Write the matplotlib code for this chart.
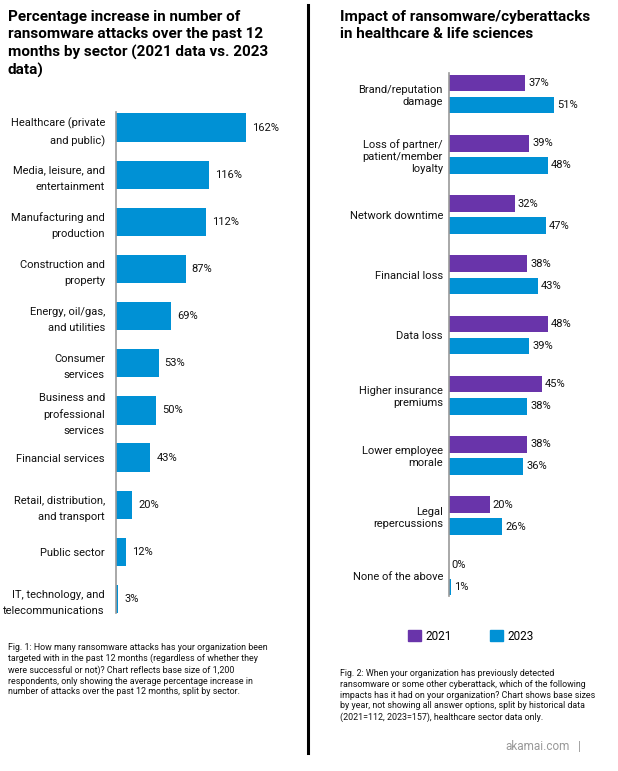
import matplotlib.pyplot as plt
from matplotlib.patches import Patch
from matplotlib.lines import Line2D

plt.rcParams['font.family'] = ['Roboto', 'DejaVu Sans']

BLUE = "#0091d5"
PURPLE = "#6934aa"

# left chart data
sectors = ["Healthcare (private\nand public)", "Media, leisure, and\nentertainment",
           "Manufacturing and\nproduction", "Construction and\nproperty",
           "Energy, oil/gas,\nand utilities", "Consumer\nservices",
           "Business and\nprofessional\nservices", "Financial services",
           "Retail, distribution,\nand transport", "Public sector",
           "IT, technology, and\ntelecommunications"]
increase = [162, 116, 112, 87, 69, 53, 50, 43, 20, 12, 3]

# right chart data
impacts = ["Brand/reputation\ndamage", "Loss of partner/\npatient/member\nloyalty",
           "Network downtime", "Financial loss", "Data loss",
           "Higher insurance\npremiums", "Lower employee\nmorale",
           "Legal\nrepercussions", "None of the above"]
y2021 = [37, 39, 32, 38, 48, 45, 38, 20, 0]
y2023 = [51, 48, 47, 43, 39, 38, 36, 26, 1]
years = ["2021", "2023"]

W, H = 618, 771
fig = plt.figure(figsize=(W / 100, H / 100), dpi=100)


def px_axes(x0, y0, x1, y1):
    # axes from pixel box (top-left origin)
    return fig.add_axes([x0 / W, 1 - y1 / H, (x1 - x0) / W, (y1 - y0) / H])


def tidy(ax):
    for s in ["top", "right", "bottom"]:
        ax.spines[s].set_visible(False)
    ax.spines["left"].set_color("#999999")
    ax.spines["left"].set_linewidth(1.2)
    ax.set_xticks([])
    ax.tick_params(axis="y", length=0)


# ---- left chart
ax1 = px_axes(116, 104, 300, 622.5)
ys = list(range(len(sectors)))
ax1.barh(ys, increase, height=0.6, color=BLUE)
ax1.set_xlim(0, 184 / 0.802)
ax1.set_ylim(10.5, -0.5)
ax1.set_yticks(ys)
ax1.set_yticklabels(sectors, fontsize=8, linespacing=1.75, color="#111111")
ax1.tick_params(axis="y", pad=8)
tidy(ax1)
ax1.spines["left"].set_bounds(-0.33, 10.3)
for y, v in zip(ys, increase):
    ax1.annotate(f"{v}%", (v, y), xytext=(6, 0), textcoords="offset pixels",
                 va="center", ha="left", fontsize=8, color="#111111")

fig.text(8 / W, 1 - 10 / H,
         "Percentage increase in number of\nransomware attacks over the past 12\nmonths by sector (2021 data vs. 2023\ndata)",
         fontsize=11, fontweight="bold", va="top", ha="left", linespacing=1.3)

fig.text(8 / W, 1 - 643 / H,
         "Fig. 1: How many ransomware attacks has your organization been\n"
         "targeted with in the past 12 months (regardless of whether they\n"
         "were successful or not)? Chart reflects base size of 1,200\n"
         "respondents, only showing the average percentage increase in\n"
         "number of attacks over the past 12 months, split by sector.",
         fontsize=6.4, va="top", ha="left", linespacing=1.25, color="#111111")

# ---- right chart
ax2 = px_axes(448.5, 64, 612, 606)
gy = list(range(len(impacts)))
off = 0.183
ax2.barh([g - off for g in gy], y2021, height=0.275, color=PURPLE)
ax2.barh([g + off for g in gy], y2023, height=0.275, color=BLUE)
ax2.set_xlim(0, 163.5 / 2.07)
ax2.set_ylim(8.5, -0.5)
ax2.set_yticks(gy)
ax2.set_yticklabels(impacts, fontsize=8, linespacing=1.25, color="#111111")
ax2.tick_params(axis="y", pad=4)
tidy(ax2)
ax2.spines["left"].set_bounds(-0.35, 8.33)
for g, a, b in zip(gy, y2021, y2023):
    ax2.annotate(f"{a}%", (a, g - off), xytext=(3, 0), textcoords="offset pixels",
                 va="center", ha="left", fontsize=8, color="#111111")
    ax2.annotate(f"{b}%", (b, g + off), xytext=(3, 0), textcoords="offset pixels",
                 va="center", ha="left", fontsize=8, color="#111111")

fig.text(340 / W, 1 - 10 / H,
         "Impact of ransomware/cyberattacks\nin healthcare & life sciences",
         fontsize=11, fontweight="bold", va="top", ha="left", linespacing=1.3)

handles = [Patch(color=PURPLE), Patch(color=BLUE)]
fig.legend(handles, years, loc="center", bbox_to_anchor=(471 / W, 1 - 636 / H),
           ncol=2, frameon=False, fontsize=8.5, handlelength=1.1, handleheight=1.1,
           handletextpad=0.4, columnspacing=3.2)

fig.text(340 / W, 1 - 669 / H,
         "Fig. 2: When your organization has previously detected\n"
         "ransomware or some other cyberattack, which of the following\n"
         "impacts has it had on your organization? Chart shows base sizes\n"
         "by year, not showing all answer options, split by historical data\n"
         "(2021=112, 2023=157), healthcare sector data only.",
         fontsize=6.4, va="top", ha="left", linespacing=1.25, color="#111111")

fig.text(505 / W, 1 - 746 / H, "akamai.com", fontsize=8.5, color="#999999",
         va="center", ha="left")
fig.text(578 / W, 1 - 746 / H, "|", fontsize=8.5, color="#999999",
         va="center", ha="left")

# divider between the two panels
fig.add_artist(Line2D([308 / W, 308 / W], [1 - 5 / H, 1 - 753 / H],
                      color="black", linewidth=2.2, transform=fig.transFigure))

fig.savefig("out.png", dpi=100)
